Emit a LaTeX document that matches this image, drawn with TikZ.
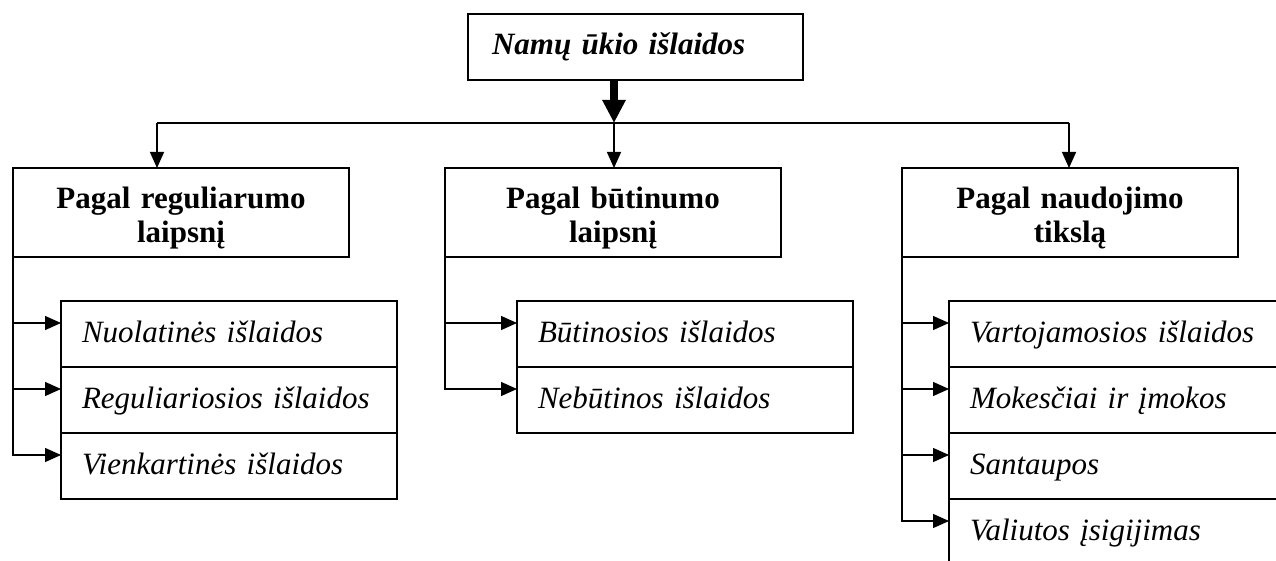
\documentclass[tikz,border=0pt]{standalone}
\usepackage{fontspec}
\setmainfont{Liberation Serif}
\usepackage{tikz}
\usetikzlibrary{arrows.meta}
\usetikzlibrary{positioning}
\tikzset{titlebox/.style={rectangle,draw=black,line width=1.4pt,outer sep=0pt,minimum width=335pt,minimum height=66pt,inner xsep=24pt,text width=287pt,align=left,font=\fontsize{31pt}{34pt}\selectfont\bfseries\itshape}}
\tikzset{groupbox/.style={rectangle,draw=black,line width=1.4pt,outer sep=0pt,minimum width=336pt,minimum height=89pt,inner xsep=8pt,inner ysep=2pt,text width=320pt,align=center,text height=34pt,text depth=41pt,font=\fontsize{31pt}{34pt}\selectfont\bfseries}}
\tikzset{leafbox/.style={rectangle,draw=black,line width=1.4pt,outer sep=0pt,minimum width=336pt,minimum height=66pt,inner xsep=21pt,text width=294pt,align=left,text height=22pt,text depth=6pt,font=\fontsize{31pt}{34pt}\selectfont\itshape}}
\tikzset{link/.style={line width=1.4pt,-{Triangle[length=16pt,width=14pt]}}}
\tikzset{biglink/.style={line width=8pt,-{Triangle[length=23pt,width=22pt]}}}

\begin{document}
\begin{tikzpicture}[x=1pt,y=-1pt]
    \useasboundingbox (0,0) rectangle (1276,561);
    \node[titlebox, anchor=north west] (title) at (468,14) {Namų ūkio išlaidos};
    \node[groupbox, anchor=north west] (reg) at (13,168) {Pagal reguliarumo\\laipsnį};
    \node[groupbox, anchor=north west] (but) at (445,168) {Pagal būtinumo\\laipsnį};
    \node[groupbox, anchor=north west] (tik) at (902,168) {Pagal naudojimo\\tikslą};
    % reguliarumas
    \node[leafbox, anchor=north west] (reg1) at (61,301) {Nuolatinės išlaidos};
    \node[leafbox, below=0pt of reg1] (reg2) {Reguliariosios išlaidos};
    \node[leafbox, below=0pt of reg2] (reg3) {Vienkartinės išlaidos};
    % butinumas
    \node[leafbox, anchor=north west] (but1) at (517,301) {Būtinosios išlaidos};
    \node[leafbox, below=0pt of but1] (but2) {Nebūtinos išlaidos};
    % tikslas
    \node[leafbox, anchor=north west] (tik1) at (949,301) {Vartojamosios išlaidos};
    \node[leafbox, below=0pt of tik1] (tik2) {Mokesčiai ir įmokos};
    \node[leafbox, below=0pt of tik2] (tik3) {Santaupos};
    \node[leafbox, below=0pt of tik3] (tik4) {Valiutos įsigijimas};
    \coordinate (split) at (614,123);
    \coordinate (hl) at (157,123);
    \coordinate (hr) at (1069,123);
\begin{scope}
    \draw[biglink] (title.south -| split) -- (split);
    \draw[line width=1.4pt] (hl) -- (hr);
    \draw[link] (hl) -- (reg.north -| hl);
    \draw[link] (split) -- (but.north -| split);
    \draw[link] (hr) -- (tik.north -| hr);
    \draw[link] (reg.south west) |- ([yshift=11pt]reg1.west);
    \draw[link] (reg.south west) |- ([yshift=11pt]reg2.west);
    \draw[link] (reg.south west) |- ([yshift=11pt]reg3.west);
    \draw[link] (but.south west) |- ([yshift=11pt]but1.west);
    \draw[link] (but.south west) |- ([yshift=11pt]but2.west);
    \draw[link] (tik.south west) |- ([yshift=11pt]tik1.west);
    \draw[link] (tik.south west) |- ([yshift=11pt]tik2.west);
    \draw[link] (tik.south west) |- ([yshift=11pt]tik3.west);
    \draw[link] (tik.south west) |- ([yshift=11pt]tik4.west);
\end{scope}
\end{tikzpicture}
\end{document}
